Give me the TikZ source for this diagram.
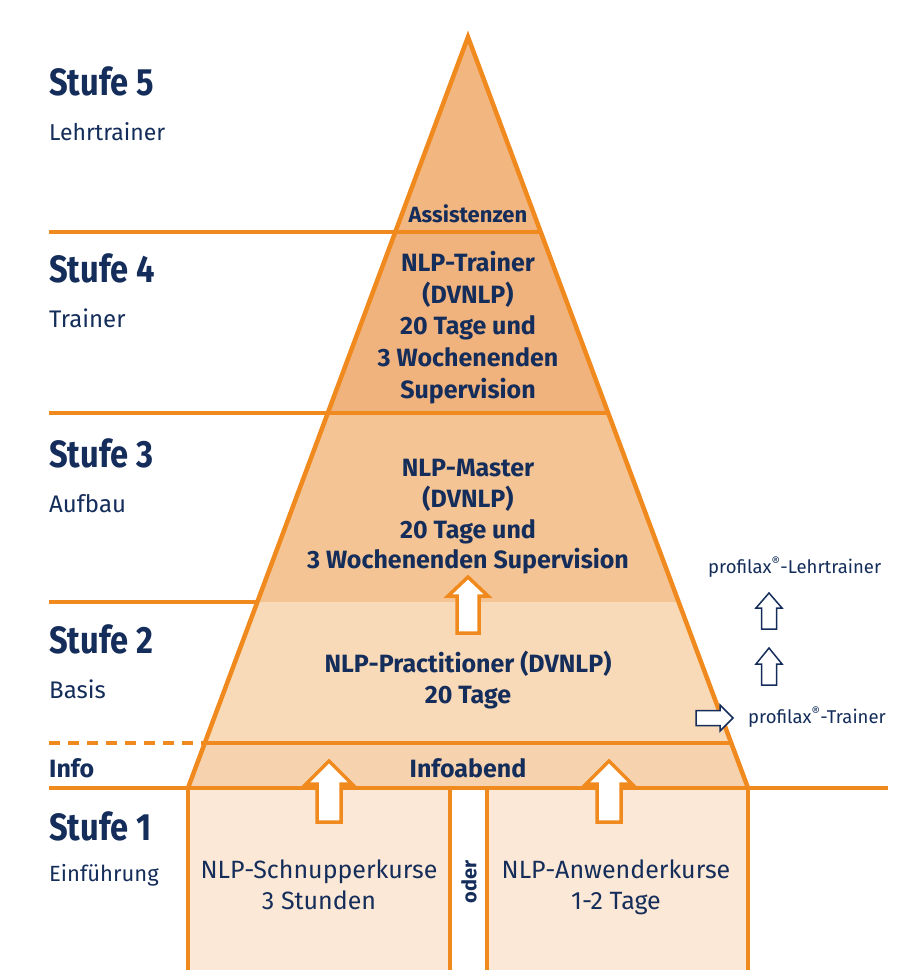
\documentclass[tikz,border=0pt]{standalone}
\usepackage{fontspec}
\setmainfont{Fira Sans}
\newfontfamily\stufefont{Fira Sans}[FakeStretch=0.86]
\usetikzlibrary{calc}
\definecolor{navy}{HTML}{142D5A}
\definecolor{orng}{HTML}{F08A1E}
\definecolor{fillA}{HTML}{F2B681}
\definecolor{fillB}{HTML}{F0B37D}
\definecolor{fillC}{HTML}{F4C494}
\definecolor{fillD}{HTML}{F8D9B8}
\definecolor{fillE}{HTML}{F6D3AE}
\definecolor{fillF}{HTML}{FCE8D6}
\begin{document}
\begin{tikzpicture}[x=1pt,y=-1pt,
  edge/.style={draw=orng,line width=4.5pt},
  stufe/.style={anchor=base west,inner sep=0pt,text=navy,font=\stufefont\bfseries\fontsize{38}{40}\selectfont},
  sub/.style={anchor=base west,inner sep=0pt,text=navy,font=\fontsize{24}{28}\selectfont},
  ptxt/.style={anchor=base,inner sep=0pt,text=navy,font=\bfseries\fontsize{25}{30}\selectfont},
  btxt/.style={anchor=base,inner sep=0pt,text=navy,font=\fontsize{25}{30}\selectfont},
  ptext/.style={anchor=base west,inner sep=0pt,text=navy,font=\fontsize{18.5}{22}\selectfont},
  oarrow/.style={draw=orng,fill=white,line width=3.5pt,line join=miter},
  narrow/.style={draw=navy,fill=white,line width=1.5pt,line join=miter},
]
\useasboundingbox (0,0) rectangle (899,970);
\fill[white] (0,0) rectangle (899,970);

% pyramid corner coordinates
\coordinate (apex) at (468,37);
\coordinate (L1) at (395.3,232); \coordinate (R1) at (540.7,232);
\coordinate (L2) at (327.8,413); \coordinate (R2) at (608.2,413);
\coordinate (L3) at (257.4,602); \coordinate (R3) at (678.6,602);
\coordinate (L4) at (204.8,743); \coordinate (R4) at (731.2,743);
\coordinate (L5) at (188,788);   \coordinate (R5) at (748,788);
\coordinate (M1) at (450,788);   \coordinate (M2) at (487,788);
\coordinate (B0) at (188,970);   \coordinate (B1) at (450,970);
\coordinate (B2) at (487,970);   \coordinate (B3) at (748,970);
\coordinate (h1) at (49,232);
\coordinate (h2) at (49,413);
\coordinate (h3) at (49,602);
\coordinate (h4) at (49,743);
\coordinate (h5) at (49,788);
\coordinate (h6) at (888,788);

% fills
\fill[fillA] (apex) -- (R1) -- (L1) -- cycle;
\fill[fillB] (L1) -- (R1) -- (R2) -- (L2) -- cycle;
\fill[fillC] (L2) -- (R2) -- (R3) -- (L3) -- cycle;
\fill[fillD] (L3) -- (R3) -- (R4) -- (L4) -- cycle;
\fill[fillE] (L4) -- (R4) -- (R5) -- (L5) -- cycle;
\fill[fillF] (L5) rectangle (B1);
\fill[fillF] (M2) rectangle (B3);

% lines
\draw[edge] (L5) -- (B0);
\draw[edge] (M1) -- (B1);
\draw[edge] (M2) -- (B2);
\draw[edge] (R5) -- (B3);
\draw[edge] (h1) -- (R1);
\draw[edge] (h2) -- (R2);
\draw[edge] (h3) -- (L3);
\draw[edge,dash pattern=on 11pt off 8pt] (h4) -- (L4);
\draw[edge] (L4) -- (R4);
\draw[edge] (h5) -- (h6);
\draw[edge,line join=miter] (L5) -- (apex) -- (R5);

% orange block arrows
\draw[oarrow] (468,577) -- ++(20,19) -- ++(-9,0) -- ++(0,37) -- ++(-22,0) -- ++(0,-37) -- ++(-9,0) -- cycle;
\draw[oarrow] (329,761) -- ++(23,23) -- ++(-11,0) -- ++(0,38) -- ++(-24,0) -- ++(0,-38) -- ++(-11,0) -- cycle;
\draw[oarrow] (609,761) -- ++(23,23) -- ++(-11,0) -- ++(0,38) -- ++(-24,0) -- ++(0,-38) -- ++(-11,0) -- cycle;

% navy arrows
\draw[narrow] (769,593) -- ++(13,15) -- ++(-5.5,0) -- ++(0,21) -- ++(-15,0) -- ++(0,-21) -- ++(-5.5,0) -- cycle;
\draw[narrow] (769,648) -- ++(13,16) -- ++(-5.5,0) -- ++(0,21) -- ++(-15,0) -- ++(0,-21) -- ++(-5.5,0) -- cycle;
\draw[narrow] (733,718) -- ++(-13,13) -- ++(0,-5.5) -- ++(-24,0) -- ++(0,-15) -- ++(24,0) -- ++(0,-5.5) -- cycle;

% left labels
\node[stufe] (s5) at (49,95) {Stufe 5};
\node[sub,font=\fontsize{23}{28}\selectfont] (s5t) at (49,140) {Lehrtrainer};
\node[stufe] (s4) at (49,282) {Stufe 4};
\node[sub] (s4t) at (49,327) {Trainer};
\node[stufe] (s3) at (49,467) {Stufe 3};
\node[sub] (s3t) at (49,512) {Aufbau};
\node[stufe] (s2) at (49,653) {Stufe 2};
\node[sub] (s2t) at (49,698) {Basis};
\node[anchor=base west,inner sep=0pt,text=navy,font=\bfseries\fontsize{25}{30}\selectfont] (info) at (49,777) {Info};
\node[stufe] (s1) at (49,840) {Stufe 1};
\node[sub,font=\fontsize{22}{26}\selectfont] (s1t) at (49,881) {Einführung};

% pyramid texts
\node[ptxt,font=\bfseries\fontsize{22}{26}\selectfont] (assi) at (468,222) {Assistenzen};
\node[ptxt] (t4a) at (468,271) {NLP-Trainer};
\node[ptxt] (t4b) at (468,303) {(DVNLP)};
\node[ptxt] (t4c) at (468,334) {20 Tage und};
\node[ptxt] (t4d) at (468,366) {3 Wochenenden};
\node[ptxt] (t4e) at (468,398) {Supervision};
\node[ptxt] (t3a) at (468,476) {NLP-Master};
\node[ptxt] (t3b) at (468,507) {(DVNLP)};
\node[ptxt] (t3c) at (468,538) {20 Tage und};
\node[ptxt] (t3d) at (468,568) {3 Wochenenden Supervision};
\node[ptxt] (t2a) at (468,672) {NLP-Practitioner (DVNLP)};
\node[ptxt] (t2b) at (468,703) {20 Tage};
\node[ptxt] (infoab) at (468,777) {Infoabend};

% bottom boxes
\node[btxt] (b1a) at (319,878) {NLP-Schnupperkurse};
\node[btxt] (b1b) at (319,909) {3 Stunden};
\node[btxt] (b2a) at (616,878) {NLP-Anwenderkurse};
\node[btxt] (b2b) at (616,909) {1-2 Tage};
\node[rotate=90,inner sep=0pt,text=navy,font=\bfseries\fontsize{20}{24}\selectfont] (oder) at (469,882) {oder};

% profilax
\node[ptext] (plt) at (708,573) {profilax\textsuperscript{®}-Lehrtrainer};
\node[ptext] (pt) at (748,723) {profilax\textsuperscript{®}-Trainer};
\end{tikzpicture}
\end{document}
